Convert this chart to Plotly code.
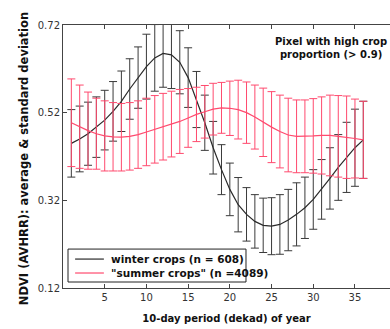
import plotly.graph_objects as go

dekads = list(range(1, 37))

winter_mean = [0.450, 0.460, 0.472, 0.487, 0.503, 0.523, 0.546, 0.574, 0.600, 0.625,
               0.645, 0.655, 0.652, 0.635, 0.600, 0.550, 0.497, 0.440, 0.390, 0.345,
               0.310, 0.288, 0.272, 0.263, 0.261, 0.265, 0.275, 0.288, 0.303, 0.322,
               0.345, 0.370, 0.395, 0.418, 0.440, 0.458]
winter_std = [0.077, 0.075, 0.072, 0.069, 0.068, 0.068, 0.069, 0.069, 0.070, 0.074,
              0.076, 0.077, 0.077, 0.072, 0.068, 0.064, 0.063, 0.060, 0.057, 0.060,
              0.062, 0.061, 0.061, 0.062, 0.065, 0.068, 0.070, 0.072, 0.070, 0.068,
              0.068, 0.070, 0.075, 0.080, 0.088, 0.088]

summer_mean = [0.497, 0.488, 0.479, 0.472, 0.467, 0.465, 0.464, 0.466, 0.470, 0.476,
               0.482, 0.488, 0.494, 0.500, 0.508, 0.516, 0.522, 0.528, 0.531, 0.530,
               0.527, 0.520, 0.510, 0.498, 0.487, 0.477, 0.469, 0.466, 0.466, 0.467,
               0.468, 0.468, 0.466, 0.464, 0.461, 0.458]
summer_std = [0.100, 0.095, 0.088, 0.081, 0.080, 0.078, 0.077, 0.077, 0.077, 0.077,
              0.077, 0.076, 0.075, 0.073, 0.067, 0.062, 0.060, 0.059, 0.058, 0.062,
              0.067, 0.070, 0.073, 0.078, 0.081, 0.083, 0.084, 0.083, 0.083, 0.085,
              0.088, 0.092, 0.093, 0.094, 0.090, 0.088]

series_names = ["winter crops (n = 608)", '"summer crops" (n =4089)']
x_ticks = [5, 10, 15, 20, 25, 30, 35]
y_ticks = [0.12, 0.32, 0.52, 0.72]
y_tick_text = ["0.12", "0.32", "0.52", "0.72"]

BLACK = "#2a2a2a"
RED = "#ff4a6e"
FONT = "DejaVu Sans"

fig = go.Figure()
fig.add_trace(go.Scatter(
    x=dekads, y=winter_mean, mode="lines", name=series_names[0],
    line=dict(color=BLACK, width=1.2),
    error_y=dict(type="data", array=winter_std, visible=True,
                 color="#3a3a3a", thickness=1, width=4),
))
fig.add_trace(go.Scatter(
    x=dekads, y=summer_mean, mode="lines", name=series_names[1],
    line=dict(color=RED, width=1.2),
    error_y=dict(type="data", array=summer_std, visible=True,
                 color=RED, thickness=1, width=4),
))

# manual legend box (paper coordinates)
shapes = [
    dict(type="rect", xref="paper", yref="paper", x0=0.0153, x1=0.5596,
         y0=0.0228, y1=0.148, line=dict(color="#222", width=1), fillcolor="white",
         layer="above"),
    dict(type="line", xref="paper", yref="paper", x0=0.037, x1=0.125,
         y0=0.110, y1=0.110, line=dict(color=BLACK, width=1.2), layer="above"),
    dict(type="line", xref="paper", yref="paper", x0=0.037, x1=0.125,
         y0=0.057, y1=0.057, line=dict(color=RED, width=1.2), layer="above"),
]
legend_font = dict(family=FONT, size=10.5, color="#111", weight="bold")
annotations = [
    dict(text=series_names[0], xref="paper", yref="paper", x=0.142, y=0.110,
         xanchor="left", yanchor="middle", showarrow=False, font=legend_font),
    dict(text=series_names[1], xref="paper", yref="paper", x=0.142, y=0.057,
         xanchor="left", yanchor="middle", showarrow=False, font=legend_font),
    dict(text="Pixel with high crop<br>proportion (> 0.9)",
         xref="paper", yref="paper", x=0.82, y=0.912,
         xanchor="center", yanchor="middle", showarrow=False,
         font=dict(family=FONT, size=10, color="#111", weight="bold")),
    dict(text="NDVI (AVHRR): average &amp; standard deviation",
         xref="paper", yref="paper", x=-0.119, y=0.49, textangle=-90,
         xanchor="center", yanchor="middle", showarrow=False,
         font=dict(family=FONT, size=11.5, color="#111", weight="bold")),
]

fig.update_layout(
    width=390, height=329,
    margin=dict(l=63, r=0, t=25, b=41),
    paper_bgcolor="white", plot_bgcolor="white",
    font=dict(family=FONT, size=10, color="#222"),
    showlegend=False,
    shapes=shapes,
    annotations=annotations,
)

fig.update_xaxes(
    range=[0, 39.2], tickvals=x_ticks, ticks="inside", ticklen=4,
    tickcolor="#444", showline=True, linecolor="#444", linewidth=1,
    mirror="ticks", showgrid=False, zeroline=False,
    tickfont=dict(family=FONT, size=10, color="#333"),
    title=dict(text="10-day period (dekad) of year", standoff=12,
               font=dict(family=FONT, size=10, color="#111", weight="bold")),
)
fig.update_yaxes(
    range=[0.12, 0.72], tickvals=y_ticks, ticktext=y_tick_text,
    ticks="inside", ticklen=4, tickcolor="#444",
    showline=True, linecolor="#444", linewidth=1, mirror=False,
    showgrid=False, zeroline=False,
    tickfont=dict(family=FONT, size=10, color="#333"),
)

fig.write_html("out.html")
